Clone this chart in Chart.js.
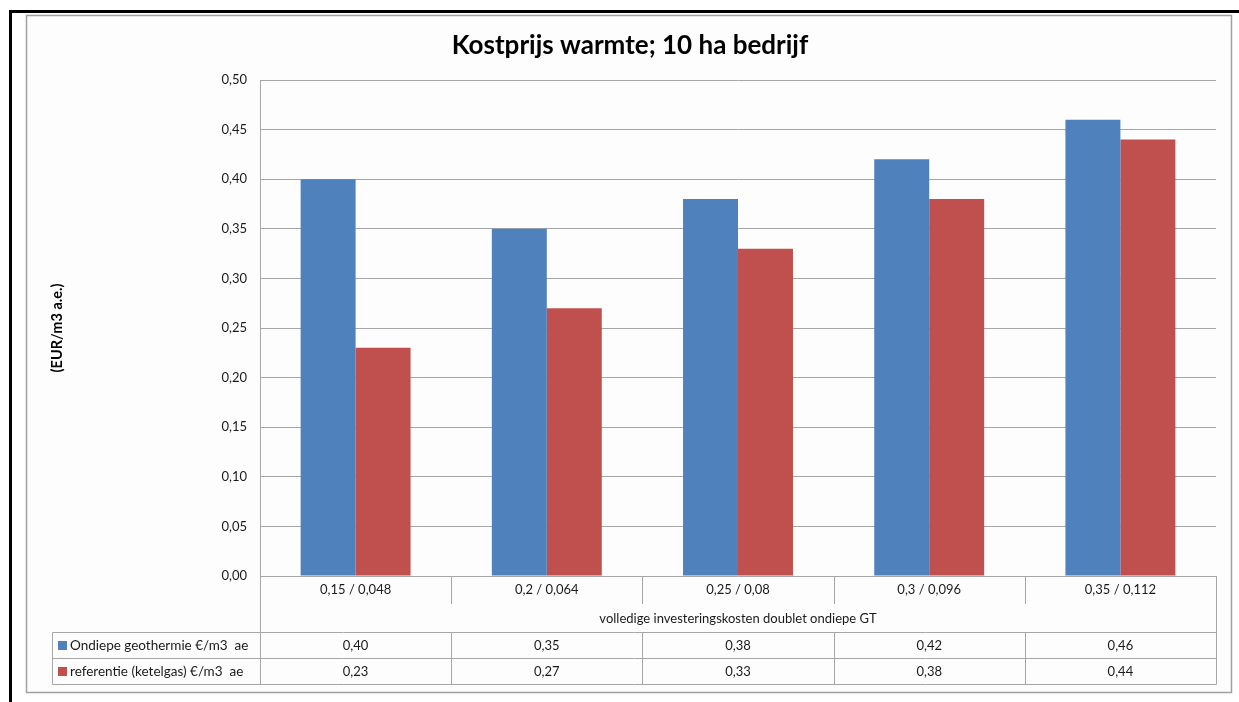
<!DOCTYPE html>
<html>
<head>
<meta charset="utf-8">
<script src="https://cdn.jsdelivr.net/npm/chart.js@4/dist/chart.umd.min.js"></script>
<style>
  html, body { margin: 0; padding: 0; background: #ffffff; }
  #wrap { width: 1239px; height: 702px; position: relative; }
</style>
</head>
<body>
<div id="wrap"><canvas id="c" width="1239" height="702"></canvas></div>
<script>
// Investment cost scenarios (x axis) and heat cost price per series
const categories = ['0,15 / 0,048', '0,2 / 0,064', '0,25 / 0,08', '0,3 / 0,096', '0,35 / 0,112'];
const geothermie = [0.40, 0.35, 0.38, 0.42, 0.46];
const referentie = [0.23, 0.27, 0.33, 0.38, 0.44];
const seriesNames = ['Ondiepe geothermie €/m3  ae', 'referentie (ketelgas) €/m3  ae'];
const seriesColors = ['#4f81bd', '#c0504d'];
const titleText = 'Kostprijs warmte; 10 ha bedrijf';
const yTitle = '(EUR/m3 a.e.)';
const xTitle = 'volledige investeringskosten doublet ondiepe GT';

const FONT = 'Lato, "Open Sans", sans-serif';
const GRID = '#a6a6a6';
const TEXT = '#1a1a1a';

function fmt(v) { return v.toFixed(2).replace('.', ','); }

// Frame, title, axis title and the data table under the plot
const decorations = {
  id: 'decorations',
  beforeDraw(chart) {
    const ctx = chart.ctx;
    ctx.save();
    ctx.fillStyle = '#ffffff';
    ctx.fillRect(0, 0, chart.width, chart.height);
    ctx.fillStyle = '#fdfdfd';
    ctx.fillRect(26, 15, 1206, 678);
    ctx.strokeStyle = '#a0a0a0';
    ctx.lineWidth = 1.5;
    ctx.strokeRect(26.5, 15.5, 1205, 677);
    ctx.fillStyle = '#000000';
    ctx.fillRect(9, 10, 1230, 3);
    ctx.fillRect(9, 10, 3, 692);
    ctx.restore();
  },
  afterDraw(chart) {
    const ctx = chart.ctx;
    const area = chart.chartArea;
    const x = chart.scales.x;
    ctx.save();

    // Title
    ctx.fillStyle = '#000000';
    ctx.font = 'bold 26px ' + FONT;
    ctx.textAlign = 'center';
    ctx.textBaseline = 'middle';
    ctx.fillText(titleText, 630, 46);

    // Vertical axis title
    ctx.save();
    ctx.translate(57, (area.top + area.bottom) / 2);
    ctx.rotate(-Math.PI / 2);
    ctx.font = 'bold 14.5px ' + FONT;
    ctx.fillText(yTitle, 0, 0);
    ctx.restore();

    const n = categories.length;
    const step = (area.right - area.left) / n;
    const edges = [];
    for (let i = 0; i <= n; i++) edges.push(Math.round(area.left + i * step) + 0.5);

    const tableLeft = 52.5;
    const rowTop = 632.5, rowMid = 658.5, rowBottom = 684.5;
    const labelRowBottom = 604;

    ctx.strokeStyle = GRID;
    ctx.lineWidth = 1;
    ctx.beginPath();
    // left and right borders of the table
    ctx.moveTo(edges[0], area.bottom); ctx.lineTo(edges[0], rowBottom);
    ctx.moveTo(edges[n], area.bottom); ctx.lineTo(edges[n], rowBottom);
    // category separators
    for (let i = 1; i < n; i++) {
      ctx.moveTo(edges[i], area.bottom); ctx.lineTo(edges[i], labelRowBottom);
      ctx.moveTo(edges[i], rowTop); ctx.lineTo(edges[i], rowBottom);
    }
    // rows
    [rowTop, rowMid, rowBottom].forEach(y => {
      ctx.moveTo(tableLeft, y); ctx.lineTo(edges[n], y);
    });
    ctx.moveTo(tableLeft, rowTop); ctx.lineTo(tableLeft, rowBottom);
    ctx.stroke();

    ctx.fillStyle = TEXT;
    ctx.font = '13px ' + FONT;
    ctx.textAlign = 'center';
    ctx.textBaseline = 'middle';
    categories.forEach((c, i) => {
      ctx.fillText(c, x.getPixelForValue(i), 590);
    });
    ctx.fillText(xTitle, (area.left + area.right) / 2, 619);

    const rows = [geothermie, referentie];
    const rowCenters = [646, 672];
    rows.forEach((vals, r) => {
      ctx.font = '13px ' + FONT;
      vals.forEach((v, i) => {
        ctx.fillText(fmt(v), x.getPixelForValue(i), rowCenters[r]);
      });
      ctx.fillStyle = seriesColors[r];
      ctx.fillRect(58, rowCenters[r] - 5, 9, 9);
      ctx.fillStyle = TEXT;
      ctx.textAlign = 'left';
      ctx.font = '13.5px ' + FONT;
      ctx.fillText(seriesNames[r], 70, rowCenters[r]);
      ctx.textAlign = 'center';
    });

    ctx.restore();
  }
};

new Chart(document.getElementById('c'), {
  type: 'bar',
  data: {
    labels: categories,
    datasets: [
      { label: seriesNames[0], data: geothermie, backgroundColor: seriesColors[0] },
      { label: seriesNames[1], data: referentie, backgroundColor: seriesColors[1] }
    ]
  },
  options: {
    responsive: false,
    animation: false,
    devicePixelRatio: 1,
    layout: { padding: { left: 0, top: 80, right: 23, bottom: 126 } },
    datasets: { bar: { categoryPercentage: 0.575, barPercentage: 1.0 } },
    plugins: {
      legend: { display: false },
      title: { display: false },
      tooltip: { enabled: false }
    },
    scales: {
      x: {
        display: false
      },
      y: {
        min: 0,
        max: 0.5,
        afterFit(scale) { scale.width = 260; },
        border: { display: true, color: GRID, width: 1 },
        grid: { color: GRID, lineWidth: 1, drawTicks: false },
        ticks: {
          stepSize: 0.05,
          padding: 13,
          color: TEXT,
          font: { family: FONT, size: 13 },
          callback: v => fmt(v)
        }
      }
    }
  },
  plugins: [decorations]
});
</script>
</body>
</html>
